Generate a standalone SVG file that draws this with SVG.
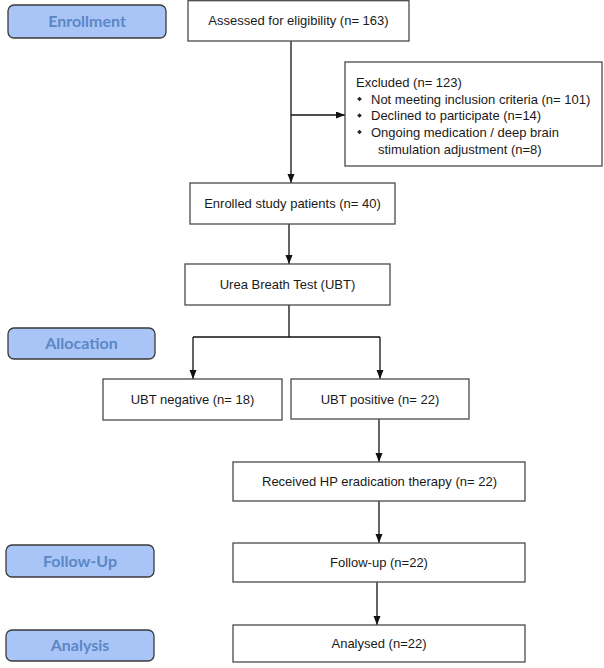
<svg xmlns="http://www.w3.org/2000/svg" width="604" height="668" viewBox="0 0 604 668">
<defs>
<style>
.box{fill:#fff;stroke:#4a4a4a;stroke-width:1.3}
.lab{fill:#a9c5f7;stroke:#3a3a3a;stroke-width:1.3}
.t{font-family:"Liberation Sans",Arial,sans-serif;font-size:13px;fill:#1a1a1a}
.m{text-anchor:middle}
.lt{font-family:Lato,"Open Sans",sans-serif;font-weight:bold;font-size:16px;fill:#5b87c6;text-anchor:middle}
.c{fill:none;stroke:#111;stroke-width:1.3}
</style>
<marker id="ah" markerUnits="userSpaceOnUse" markerWidth="10" markerHeight="8" refX="9" refY="3.5" orient="auto">
<path d="M0,0 L9,3.5 L0,7 z" fill="#111"/>
</marker>
<path id="dia" d="M0,-2.3 L2.3,0 L0,2.3 L-2.3,0 z" fill="#222"/>
</defs>

<g id="label-enrollment"><rect class="lab" x="8" y="5" width="158" height="33" rx="6"/><text class="lt" x="87" y="27">Enrollment</text></g>
<g id="label-allocation"><rect class="lab" x="8" y="328" width="147" height="31" rx="6"/><text class="lt" x="81.5" y="349">Allocation</text></g>
<g id="label-followup"><rect class="lab" x="6" y="545" width="148" height="32" rx="6"/><text class="lt" x="80" y="566.5">Follow-Up</text></g>
<g id="label-analysis"><rect class="lab" x="6" y="630" width="148" height="31" rx="6"/><text class="lt" x="80" y="651">Analysis</text></g>

<g id="connectors">
<path class="c" d="M291,41 V183" marker-end="url(#ah)"/>
<path class="c" d="M291,115 H345" marker-end="url(#ah)"/>
<path class="c" d="M289,224 V264" marker-end="url(#ah)"/>
<path class="c" d="M289,305 V337 M193,337 H380"/>
<path class="c" d="M193,337 V379" marker-end="url(#ah)"/>
<path class="c" d="M380,337 V379" marker-end="url(#ah)"/>
<path class="c" d="M379,419 V462" marker-end="url(#ah)"/>
<path class="c" d="M379,501 V543" marker-end="url(#ah)"/>
<path class="c" d="M377,582 V625" marker-end="url(#ah)"/>
</g>

<g id="assessed"><rect class="box" x="188" y="0.7" width="221" height="40.3"/><text class="t m" x="298.5" y="25">Assessed for eligibility (n= 163)</text></g>
<g id="excluded"><rect class="box" x="345" y="62" width="257" height="104"/>
<text class="t" x="356" y="86.5">Excluded (n= 123)</text>
<use href="#dia" x="359.5" y="99"/><text class="t" x="371" y="103.5">Not meeting inclusion criteria (n= 101)</text>
<use href="#dia" x="359.5" y="115.5"/><text class="t" x="371" y="120">Declined to participate (n=14)</text>
<use href="#dia" x="359.5" y="132"/><text class="t" x="371" y="136.5">Ongoing medication / deep brain</text>
<text class="t" x="378" y="153.5">stimulation adjustment (n=8)</text>
</g>
<g id="enrolled"><rect class="box" x="190" y="183" width="205" height="41"/><text class="t m" x="292.5" y="208">Enrolled study patients (n= 40)</text></g>
<g id="ubt"><rect class="box" x="185" y="264" width="205" height="41"/><text class="t m" x="287.5" y="289">Urea Breath Test (UBT)</text></g>
<g id="ubt-negative"><rect class="box" x="103" y="379" width="179" height="41"/><text class="t m" x="192.5" y="404">UBT negative (n= 18)</text></g>
<g id="ubt-positive"><rect class="box" x="291" y="379" width="178" height="40"/><text class="t m" x="380" y="404">UBT positive (n= 22)</text></g>
<g id="received"><rect class="box" x="233" y="462" width="292" height="39"/><text class="t m" x="379.5" y="486">Received HP eradication therapy (n= 22)</text></g>
<g id="followup"><rect class="box" x="233" y="543" width="292" height="39"/><text class="t m" x="379" y="567">Follow-up (n=22)</text></g>
<g id="analysed"><rect class="box" x="233" y="625" width="292" height="37"/><text class="t m" x="379" y="648">Analysed (n=22)</text></g>
</svg>
